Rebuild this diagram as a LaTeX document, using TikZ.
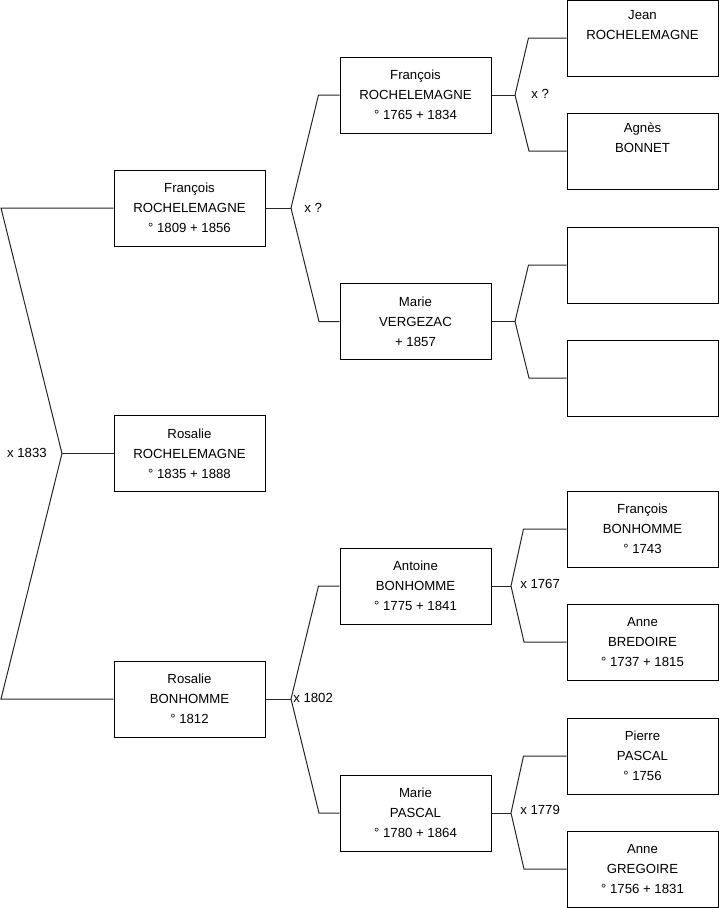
\documentclass[tikz,border=0pt]{standalone}
\usepackage{fontspec}
\setmainfont{Liberation Sans}
\usepackage{tikz}
\usetikzlibrary{positioning}

\begin{document}
\begin{tikzpicture}[
  x=0.75pt, y=-0.75pt,
  person/.style={draw=black, line width=0.75pt, minimum width=151*0.75pt,
    minimum height=76*0.75pt, align=center, inner sep=0pt,
    font=\fontsize{9.9}{15}\selectfont},
  mariage/.style={font=\fontsize{9.9}{11}\selectfont, inner sep=0pt},
  lien/.style={draw=black!85, line width=0.75pt}
]
\useasboundingbox (0,0) rectangle (719,908);

% colonnes : 1 px = 0.75pt
\def\colA{189.5}
\def\colB{415.5}
\def\colC{642.5}

% generation 1
\node[person] (francoisA) at (\colA, 208)   {François\\ROCHELEMAGNE\\° 1809 + 1856};
\node[person] (rosalieR)  at (\colA, 453.5) {Rosalie\\ROCHELEMAGNE\\° 1835 + 1888};
\node[person] (rosalieB)  at (\colA, 699)   {Rosalie\\BONHOMME\\° 1812};

% generation 2
\node[person] (francoisB) at (\colB, 95)    {François\\ROCHELEMAGNE\\° 1765 + 1834};
\node[person] (marieV)    at (\colB, 321.5) {Marie\\VERGEZAC\\+ 1857};
\node[person] (antoine)   at (\colB, 586)   {Antoine\\BONHOMME\\° 1775 + 1841};
\node[person] (marieP)    at (\colB, 813)   {Marie\\PASCAL\\° 1780 + 1864};

% generation 3
\node[person] (jean)     at (\colC, 38)  {Jean\\ROCHELEMAGNE\\\strut};
\node[person] (agnes)    at (\colC, 151) {Agnès\\BONNET\\\strut};
\node[person] (videA)    at (\colC, 265) {};
\node[person] (videB)    at (\colC, 378) {};
\node[person] (francoisC) at (\colC, 529) {François\\BONHOMME\\° 1743};
\node[person] (anneB)    at (\colC, 642) {Anne\\BREDOIRE\\° 1737 + 1815};
\node[person] (pierre)   at (\colC, 756) {Pierre\\PASCAL\\° 1756};
\node[person] (anneG)    at (\colC, 869) {Anne\\GREGOIRE\\° 1756 + 1831};

% fourches
\coordinate (kParents) at (62, 453.5);
\coordinate (kRoch)    at (291, 208);
\coordinate (kBon)     at (291, 699);
\coordinate (kRochB)   at (515, 95);
\coordinate (kVerg)    at (515, 321.5);
\coordinate (kAnt)     at (511, 586);
\coordinate (kPasc)    at (511, 813);

% parents de Rosalie
\draw[lien] (francoisA.west) -- (1, 208) -- (kParents) -- (1, 699) -- (rosalieB.west);
\draw[lien] (kParents) -- (rosalieR.west);
\node[mariage, anchor=east] (mA) at (47, 453) {x 1833};

% cote ROCHELEMAGNE
\draw[lien] (francoisA.east) -- (kRoch);
\draw[lien] (francoisB.west) -- ++(-21, 0) -- (kRoch) -- (319, 321.5) -- (marieV.west);
\node[mariage, anchor=west] (mB) at (304, 208) {x ?};

\draw[lien] (francoisB.east) -- (kRochB);
\draw[lien] (jean.west) -- ++(-38, 0) -- (kRochB) -- (529, 151) -- (agnes.west);
\node[mariage, anchor=west] (mC) at (531, 94) {x ?};

\draw[lien] (marieV.east) -- (kVerg);
\draw[lien] (videA.west) -- ++(-38, 0) -- (kVerg) -- (529, 378) -- (videB.west);

% cote BONHOMME
\draw[lien] (rosalieB.east) -- (kBon);
\draw[lien] (antoine.west) -- ++(-21, 0) -- (kBon) -- (319, 813) -- (marieP.west);
\node[mariage, anchor=west] (mD) at (293, 698) {x 1802};

\draw[lien] (antoine.east) -- (kAnt);
\draw[lien] (francoisC.west) -- ++(-43, 0) -- (kAnt) -- (524, 642) -- (anneB.west);
\node[mariage, anchor=west] (mE) at (520, 584) {x 1767};

\draw[lien] (marieP.east) -- (kPasc);
\draw[lien] (pierre.west) -- ++(-43, 0) -- (kPasc) -- (524, 869) -- (anneG.west);
\node[mariage, anchor=west] (mF) at (520, 810) {x 1779};

\end{tikzpicture}
\end{document}
